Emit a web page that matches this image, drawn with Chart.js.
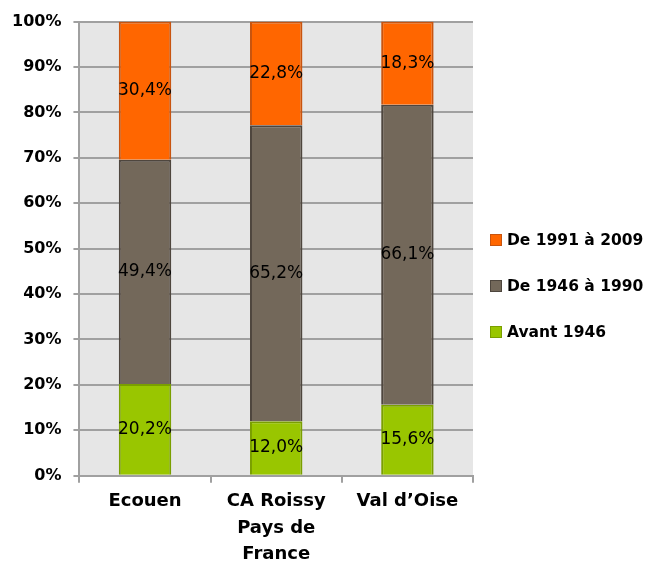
<!DOCTYPE html>
<html>
<head>
<meta charset="utf-8">
<script src="https://cdn.jsdelivr.net/npm/chart.js@4"></script>
<style>
  html, body { margin: 0; padding: 0; background: #ffffff; }
  #wrap { position: relative; width: 648px; height: 566px; }
  #legend { position: absolute; left: 490px; top: 232px; margin: 0; padding: 0; list-style: none;
            font: bold 15.5px 'DejaVu Sans', sans-serif; color: #000; }
  #legend li { height: 16px; line-height: 16px; margin-bottom: 30px; white-space: nowrap; }
  #legend span { display: inline-block; width: 10px; height: 10px; border: 1px solid; margin-right: 5px; vertical-align: -1px; }
</style>
</head>
<body>
<div id="wrap"><canvas id="chart"></canvas><ul id="legend"></ul></div>
<script>
const categories = ["Ecouen", ["CA Roissy", "Pays de", "France"], "Val d’Oise"];
const avant1946 = [20.2, 12.0, 15.6];
const de1946a1990 = [49.4, 65.2, 66.1];
const de1991a2009 = [30.4, 22.8, 18.3];
const yTicks = [0, 10, 20, 30, 40, 50, 60, 70, 80, 90, 100];

Chart.defaults.font.family = "'DejaVu Sans', sans-serif";
Chart.defaults.color = "#000000";

// fond gris de la zone de tracé
const plotBg = {
  id: "plotBg",
  beforeDraw(chart) {
    const { ctx, chartArea: a } = chart;
    ctx.save();
    ctx.fillStyle = "#e6e6e6";
    ctx.fillRect(a.left, a.top, a.right - a.left, a.bottom - a.top);
    ctx.restore();
  }
};

// étiquettes de valeur au centre de chaque segment
const valueLabels = {
  id: "valueLabels",
  afterDatasetsDraw(chart) {
    const ctx = chart.ctx;
    ctx.save();
    ctx.font = "17px 'DejaVu Sans', sans-serif";
    ctx.fillStyle = "#000000";
    ctx.textAlign = "center";
    ctx.textBaseline = "middle";
    chart.data.datasets.forEach((ds, i) => {
      chart.getDatasetMeta(i).data.forEach((bar, j) => {
        const y = (bar.y + bar.base) / 2;
        ctx.fillText(ds.data[j].toFixed(1).replace(".", ",") + "%", bar.x, y);
      });
    });
    ctx.restore();
  }
};

const chart = new Chart(document.getElementById("chart"), {
  type: "bar",
  data: {
    labels: categories,
    datasets: [
      { label: "Avant 1946", data: avant1946, backgroundColor: "#99c600", borderColor: "#7a9f00", borderWidth: 2 },
      { label: "De 1946 à 1990", data: de1946a1990, backgroundColor: "#73685a", borderColor: "#4e463e", borderWidth: 2 },
      { label: "De 1991 à 2009", data: de1991a2009, backgroundColor: "#ff6600", borderColor: "#c8540f", borderWidth: 2 }
    ]
  },
  options: {
    responsive: true,
    maintainAspectRatio: false,
    animation: false,
    barPercentage: 0.4,
    categoryPercentage: 1,
    layout: { padding: { top: 12, right: 175, bottom: -7, left: 0 } },
    plugins: {
      tooltip: { enabled: false },
      legend: { display: false }
    },
    scales: {
      x: {
        stacked: true,
        grid: { offset: true, drawOnChartArea: false, color: "#a0a0a0", lineWidth: 2, tickLength: 7 },
        border: { color: "#a0a0a0", width: 2 },
        ticks: { font: { size: 18, weight: "bold", lineHeight: 1.45 }, color: "#000000", padding: 6, maxRotation: 0 }
      },
      y: {
        stacked: true,
        min: 0,
        max: 100,
        afterBuildTicks: axis => { axis.ticks = yTicks.map(v => ({ value: v })); },
        grid: { color: "#a0a0a0", lineWidth: 2, tickLength: 6 },
        border: { color: "#a0a0a0", width: 2 },
        ticks: { font: { size: 16, weight: "bold" }, color: "#000000", padding: 12, callback: v => v + "%" }
      }
    }
  },
  plugins: [plotBg, valueLabels]
});

// légende à droite, dans l'ordre inverse des séries
const legendEl = document.getElementById("legend");
chart.data.datasets.slice().reverse().forEach(ds => {
  const li = document.createElement("li");
  const box = document.createElement("span");
  box.style.background = ds.backgroundColor;
  box.style.borderColor = ds.borderColor;
  li.appendChild(box);
  li.appendChild(document.createTextNode(ds.label));
  legendEl.appendChild(li);
});
</script>
</body>
</html>
